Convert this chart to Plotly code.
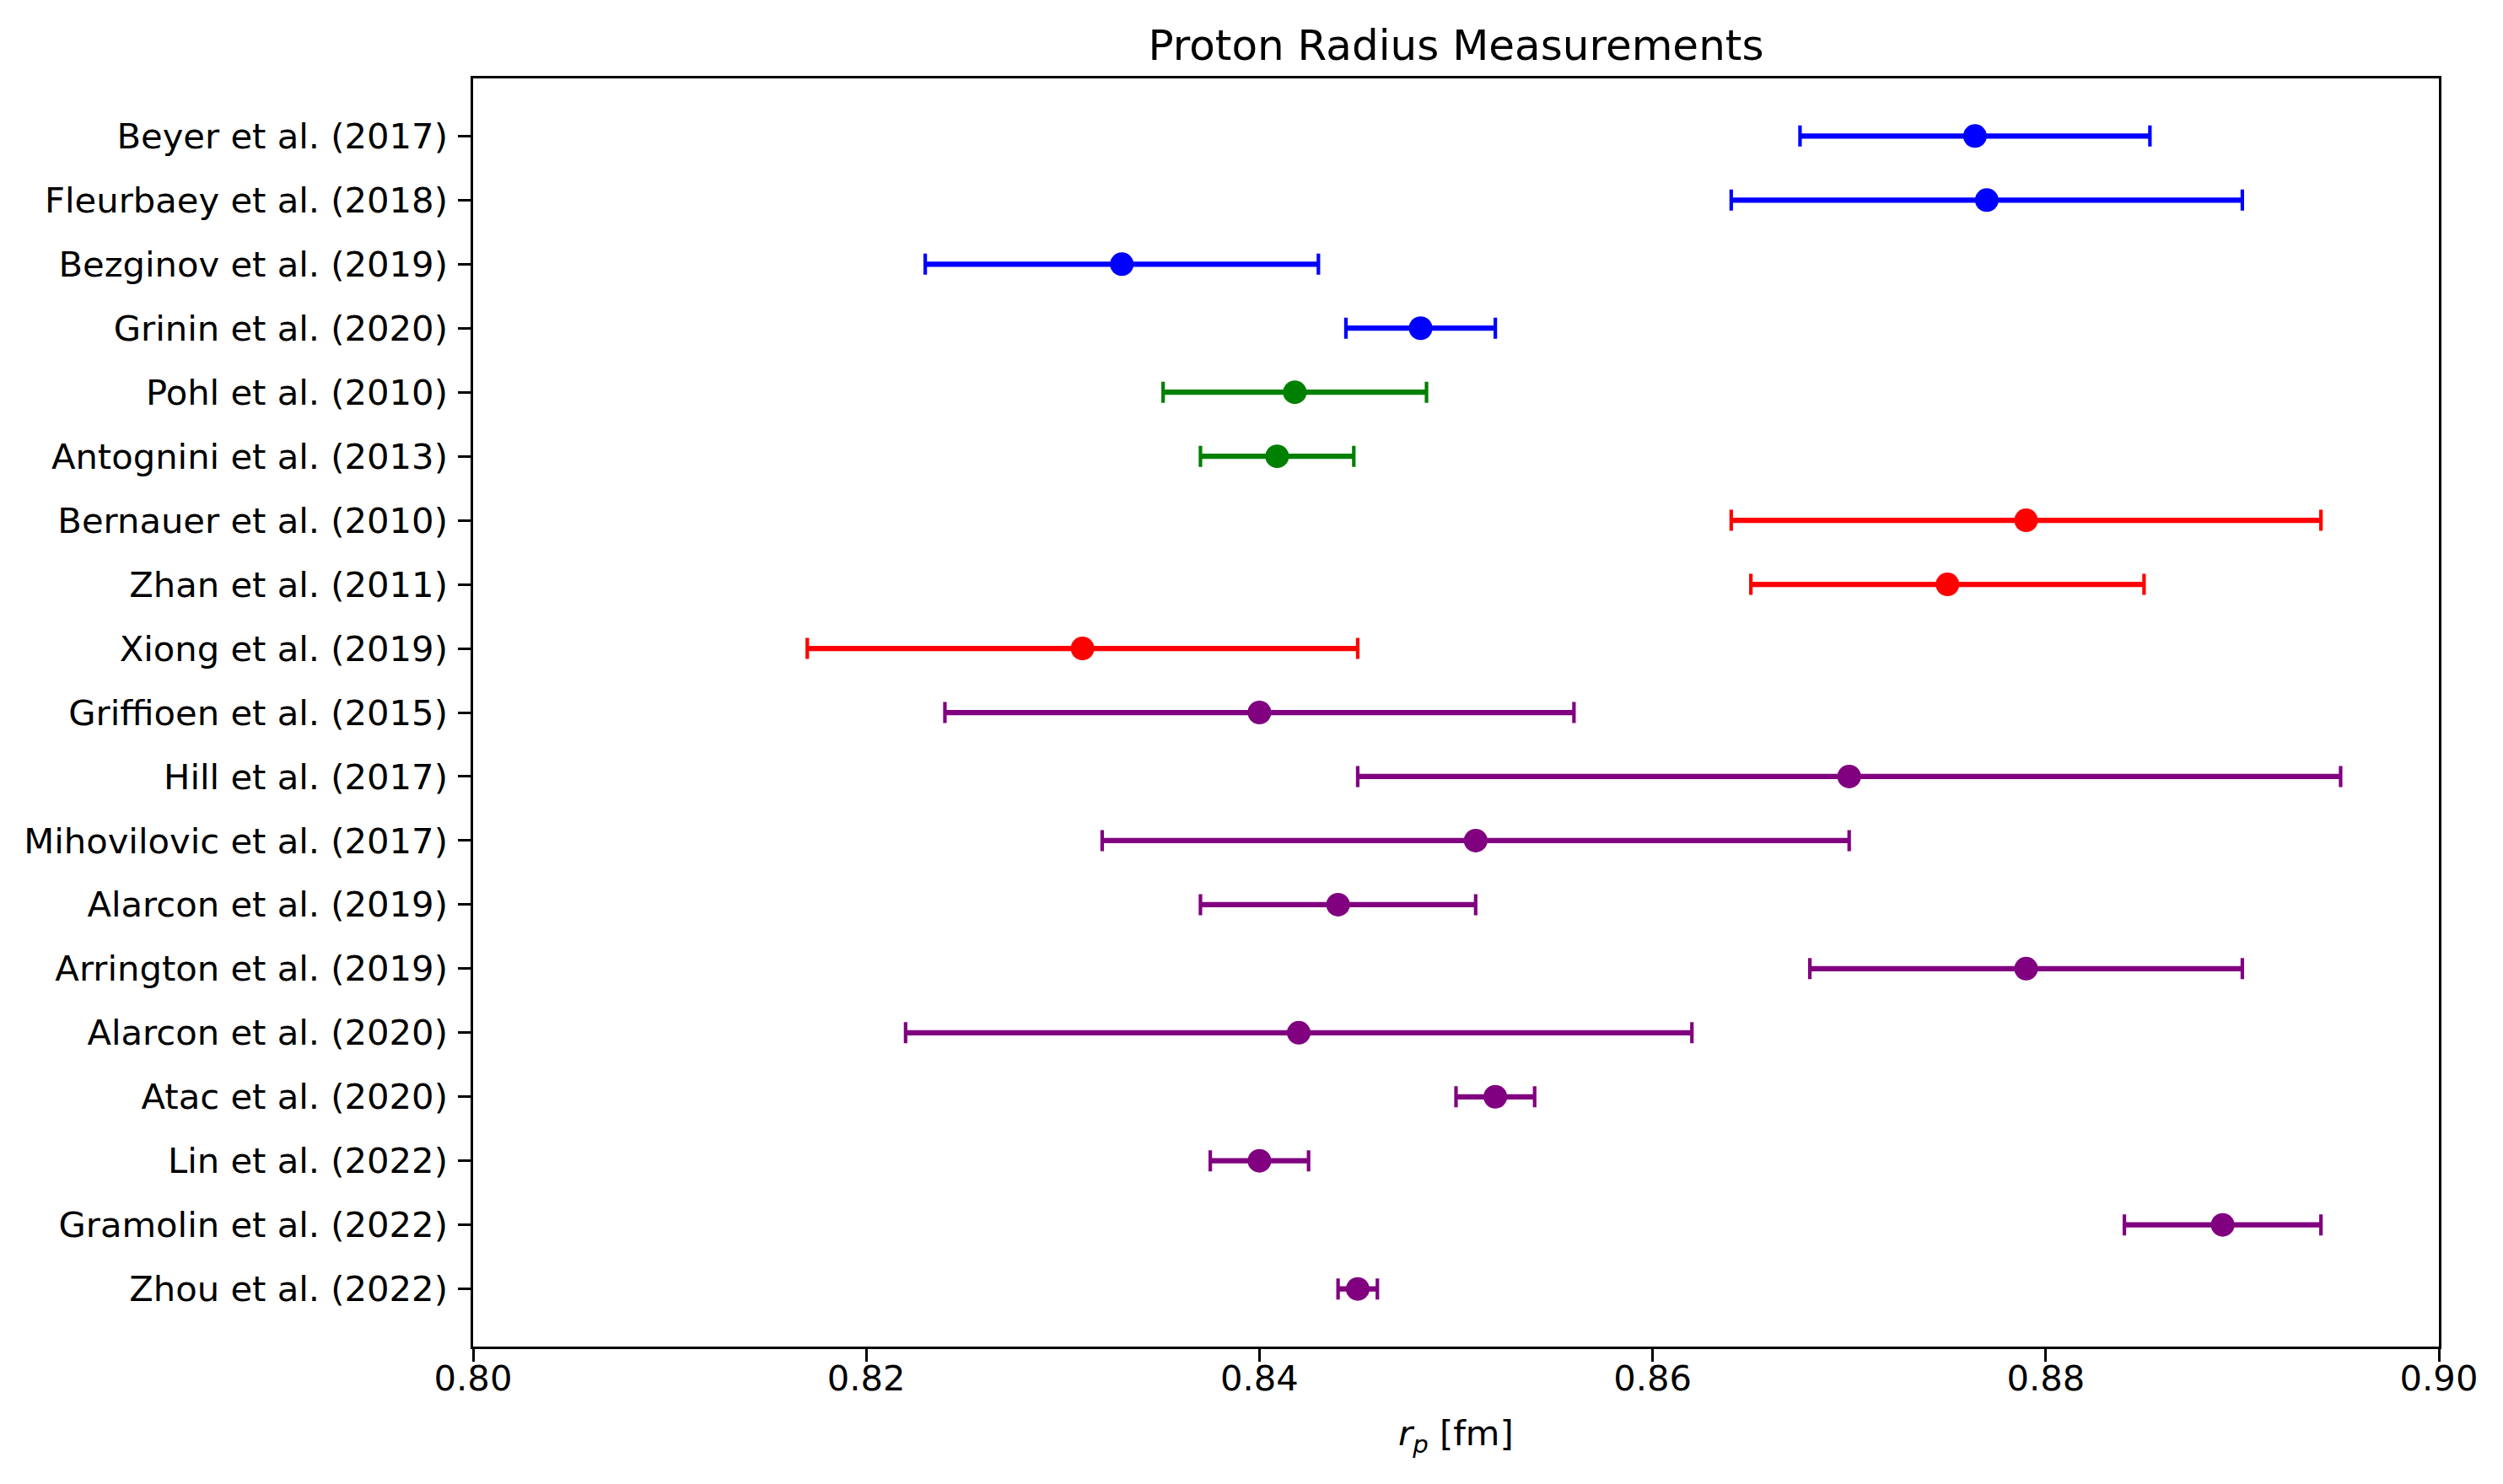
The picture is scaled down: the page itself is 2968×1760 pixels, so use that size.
import plotly.graph_objects as go

labels = [
    "Beyer et al. (2017)", "Fleurbaey et al. (2018)", "Bezginov et al. (2019)", "Grinin et al. (2020)",
    "Pohl et al. (2010)", "Antognini et al. (2013)",
    "Bernauer et al. (2010)", "Zhan et al. (2011)", "Xiong et al. (2019)",
    "Griffioen et al. (2015)", "Hill et al. (2017)", "Mihovilovic et al. (2017)", "Alarcon et al. (2019)",
    "Arrington et al. (2019)", "Alarcon et al. (2020)", "Atac et al. (2020)", "Lin et al. (2022)",
    "Gramolin et al. (2022)", "Zhou et al. (2022)",
]
radius = [0.8764, 0.877, 0.833, 0.8482,
          0.8418, 0.8409,
          0.879, 0.875, 0.831,
          0.840, 0.870, 0.851, 0.844, 0.879, 0.842, 0.852, 0.840, 0.889, 0.845]
error = [0.0089, 0.013, 0.010, 0.0038,
         0.0067, 0.0039,
         0.015, 0.010, 0.014,
         0.016, 0.025, 0.019, 0.007, 0.011, 0.020, 0.002, 0.0025, 0.005, 0.001]
group_colors = ["blue"] * 4 + ["green"] * 2 + ["red"] * 3 + ["purple"] * 10
x_ticks = [0.80, 0.82, 0.84, 0.86, 0.88, 0.90]

FONT = "DejaVu Sans"
W, H = 2952, 1744  # page body margin of 8px
fig = go.Figure()

for color in ["blue", "green", "red", "purple"]:
    idx = [i for i, c in enumerate(group_colors) if c == color]
    xs = [radius[i] for i in idx]
    ys = [labels[i] for i in idx]
    es = [error[i] for i in idx]
    # caps (thin)
    fig.add_trace(go.Scatter(
        x=xs, y=ys, mode="markers",
        marker=dict(size=1, color="rgba(0,0,0,0)"),
        error_x=dict(type="data", array=es, visible=True, color=color, thickness=4.2, width=12.5),
        showlegend=False, hoverinfo="skip"))
    # bars + markers
    fig.add_trace(go.Scatter(
        x=xs, y=ys, mode="markers",
        marker=dict(size=28, color=color, line=dict(width=0)),
        error_x=dict(type="data", array=es, visible=True, color=color, thickness=6.25, width=0),
        showlegend=False))

fig.update_layout(
    width=W, height=H,
    margin=dict(l=553, r=68, t=85, b=155, pad=0),
    paper_bgcolor="white", plot_bgcolor="white",
    font=dict(family=FONT, size=41.7, color="black"),
    showlegend=False,
    title=dict(text="Proton Radius Measurements", x=0.5, xref="paper", xanchor="center",
               y=1 - 45 / H, yref="container", yanchor="middle",
               font=dict(family=FONT, size=50, color="black")),
    xaxis=dict(range=[0.80, 0.90], tickvals=x_ticks, ticktext=[f"{v:.2f}" for v in x_ticks],
               showgrid=False, zeroline=False, showline=True, mirror=True,
               linecolor="black", linewidth=3.3, ticks="outside", ticklen=14.6,
               tickwidth=3.3, tickcolor="black", ticklabelstandoff=-16),
    yaxis=dict(type="category", categoryorder="array", categoryarray=labels,
               range=[18.9, -0.9], showgrid=False, zeroline=False, showline=True, mirror=True,
               linecolor="black", linewidth=3.3, ticks="outside", ticklen=14.6,
               tickwidth=3.3, tickcolor="black", ticklabelstandoff=4),
    annotations=[dict(text="<i>r</i><sub><i>p</i></sub> [fm]", x=0.5, xref="paper",
                      y=-(1703 - 1597) / 1504, yref="paper", xanchor="center", yanchor="middle",
                      showarrow=False, font=dict(family=FONT, size=41.7, color="black"))],
)

fig.write_html("out.html")
